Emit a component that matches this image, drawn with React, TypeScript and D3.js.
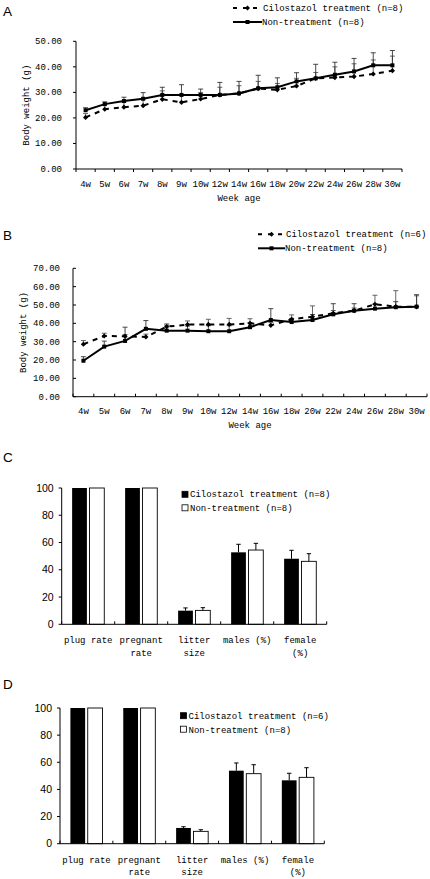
import React from "react";
import * as d3 from "d3";

const weeks = ["4w","5w","6w","7w","8w","9w","10w","12w","14w","16w","18w","20w","22w","24w","26w","28w","30w"];

const aCilo = [20.2, 23.4, 24.2, 24.8, 27.3, 26.1, 27.4, 29.0, 29.6, 31.5, 31.0, 32.5, 35.5, 35.8, 36.2, 37.2, 38.5];
const aCiloErr = [1.5, 2.0, 2.0, 2.5, 3.3, 3.0, 2.5, 3.0, 3.0, 2.8, 2.5, 3.0, 2.3, 4.2, 5.0, 5.5, 5.7];
const aNon = [23.0, 25.4, 26.6, 27.5, 29.0, 29.0, 29.0, 29.0, 29.6, 31.6, 32.0, 34.3, 35.5, 36.9, 38.2, 40.6, 40.6];
const aNonErr = [1.0, 0.9, 1.5, 2.4, 3.0, 4.0, 2.3, 4.9, 4.7, 5.1, 3.7, 3.4, 5.5, 4.9, 5.1, 4.9, 5.8];

const bCilo = [28.6, 33.1, 32.9, 32.6, 38.2, 39.3, 39.4, 39.4, 40.0, 38.9, 42.2, 43.6, 45.5, 46.9, 50.4, 49.1, 49.0];
const bCiloErr = [2.0, 1.5, 1.0, 1.5, 1.5, 2.0, 2.8, 3.3, 2.5, 1.5, 2.4, 5.9, 1.5, 1.5, 4.9, 8.7, 6.0];
const bNon = [19.6, 27.3, 30.4, 37.0, 36.0, 36.0, 35.7, 35.7, 37.9, 41.8, 40.7, 41.8, 44.9, 46.9, 48.0, 48.8, 49.1];
const bNonErr = [2.2, 3.0, 7.5, 4.5, 3.0, 2.5, 3.0, 3.0, 2.5, 6.2, 2.0, 3.0, 5.8, 3.8, 2.5, 3.0, 6.5];

const aTicks = [0, 10, 20, 30, 40, 50];
const bTicks = [0, 10, 20, 30, 40, 50, 60, 70];
const barTicks = [0, 20, 40, 60, 80, 100];

const barCats = ["plug rate", "pregnant rate", "litter size", "males (%)", "female (%)"];
const barCatLines = [["plug rate"], ["pregnant", "rate"], ["litter", "size"], ["males (%)"], ["female", "(%)"]];

const cCilo = [100, 100, 10.0, 52.8, 48.1];
const cCiloErr = [0, 0, 2.0, 5.9, 6.2];
const cNon = [100, 100, 10.2, 54.5, 46.2];
const cNonErr = [0, 0, 2.0, 4.9, 5.6];

const dCilo = [100, 100, 11.6, 53.8, 46.7];
const dCiloErr = [0, 0, 0.9, 5.7, 5.2];
const dNon = [100, 100, 9.1, 51.6, 48.9];
const dNonErr = [0, 0, 1.2, 6.6, 7.1];

const MONO = "'Liberation Mono', 'DejaVu Sans Mono', monospace";
const SANS = "'Liberation Sans', Arial, sans-serif";

type LineProps = {
  x0: number; x1: number; yTop: number; y0: number; maxV: number; ticks: number[];
  cilo: number[]; ciloErr: number[]; non: number[]; nonErr: number[];
  tickSide: number; xTickDir: number; labelRight: number; titleX: number;
  xLabelY: number; titleY: number; legX: number; legY: number; legN: string; legTextX: number;
};

function Diamond({ x, y, s }: { x: number; y: number; s: number }) {
  return <path d={`M${x},${y - s}L${x + s},${y}L${x},${y + s}L${x - s},${y}Z`} fill="#000" />;
}

function LinePanel(p: LineProps) {
  const x = d3.scaleBand<string>().domain(weeks).range([p.x0, p.x1]).padding(0);
  const y = d3.scaleLinear().domain([0, p.maxV]).range([p.y0, p.yTop]);
  const cx = (w: string) => (x(w) as number) + x.bandwidth() / 2;
  const line = d3.line<number>().x((_, i) => cx(weeks[i])).y((v) => y(v));
  const bounds = weeks.map((w) => x(w) as number).concat([p.x1]);
  const errs = (vals: number[], e: number[], col: string) =>
    vals.map((v, i) => {
      const xx = cx(weeks[i]);
      const yt = y(v + e[i]);
      return (
        <g key={i} stroke={col} strokeWidth={0.9}>
          <line x1={xx} x2={xx} y1={y(v)} y2={yt} />
          <line x1={xx - 2.5} x2={xx + 2.5} y1={yt} y2={yt} />
        </g>
      );
    });
  return (
    <g>
      {errs(p.cilo, p.ciloErr, "#555")}
      {errs(p.non, p.nonErr, "#333")}
      <path d={line(p.cilo) || ""} fill="none" stroke="#000" strokeWidth={2} strokeDasharray="5,5" />
      <path d={line(p.non) || ""} fill="none" stroke="#000" strokeWidth={2} />
      {p.cilo.map((v, i) => <Diamond key={"d" + i} x={cx(weeks[i])} y={y(v)} s={2.6} />)}
      {p.non.map((v, i) => (
        <rect key={"s" + i} x={cx(weeks[i]) - 2} y={y(v) - 2} width={4} height={4} fill="#000" />
      ))}
      {/* axes */}
      <line x1={p.x0} x2={p.x0} y1={p.y0} y2={p.yTop} stroke="#000" strokeWidth={1} />
      <line x1={p.x0} x2={p.x1} y1={p.y0} y2={p.y0} stroke="#000" strokeWidth={1} />
      {p.ticks.map((t) => (
        <g key={t}>
          <line x1={p.x0} x2={p.x0 + p.tickSide * 3} y1={y(t)} y2={y(t)} stroke="#000" />
          <text x={p.labelRight} y={y(t) + 3} textAnchor="end" fontFamily={MONO} fontSize={9} fill="#000">
            {t.toFixed(2)}
          </text>
        </g>
      ))}
      {bounds.map((b, i) => (
        <line key={i} x1={b} x2={b} y1={p.y0} y2={p.y0 + p.xTickDir * 3} stroke="#000" />
      ))}
      {weeks.map((w) => (
        <text key={w} x={cx(w)} y={p.xLabelY} textAnchor="middle" fontFamily={MONO} fontSize={9} fill="#000">
          {w}
        </text>
      ))}
      <text x={(p.x0 + p.x1) / 2} y={p.xLabelY + 14} textAnchor="middle" fontFamily={MONO} fontSize={9} fill="#000">
        Week age
      </text>
      <text
        transform={`translate(${p.titleX},${(p.y0 + p.yTop) / 2}) rotate(-90)`}
        textAnchor="middle" fontFamily={MONO} fontSize={9} fill="#000"
      >
        Body weight (g)
      </text>
      {/* legend */}
      <line x1={p.legX} x2={p.legTextX - 1} y1={p.legY} y2={p.legY} stroke="#000" strokeWidth={2} strokeDasharray="4,6" />
      <Diamond x={(p.legX + p.legTextX) / 2} y={p.legY} s={2.5} />
      <text x={p.legTextX + 1} y={p.legY + 3} fontFamily={MONO} fontSize={9} fill="#000">
        {`Cilostazol treatment (n=${p.legN})`}
      </text>
      <line x1={p.legX} x2={p.legTextX} y1={p.legY + 14} y2={p.legY + 14} stroke="#000" strokeWidth={2} />
      <rect x={(p.legX + p.legTextX) / 2 - 2} y={p.legY + 12} width={4} height={4} fill="#000" />
      <text x={p.legTextX} y={p.legY + 17} fontFamily={MONO} fontSize={9} fill="#000">
        Non-treatment (n=8)
      </text>
    </g>
  );
}

type BarProps = {
  x0: number; x1: number; yTop: number; y0: number;
  cilo: number[]; ciloErr: number[]; non: number[]; nonErr: number[];
  legX: number; legY: number; legN: string;
};

function BarPanel(p: BarProps) {
  const x = d3.scaleBand<string>().domain(barCats).range([p.x0, p.x1]).padding(0);
  const inner = d3.scaleBand<string>().domain(["c", "n"]).range([0, x.bandwidth()]).paddingInner(0.15).paddingOuter(0.6);
  const y = d3.scaleLinear().domain([0, 100]).range([p.y0, p.yTop]);
  const bounds = barCats.map((c) => x(c) as number).concat([p.x1]);
  const bars = (vals: number[], e: number[], key: string, fill: string) =>
    vals.map((v, i) => {
      const bx = (x(barCats[i]) as number) + (inner(key) as number);
      const bw = inner.bandwidth();
      const mid = bx + bw / 2;
      const yt = y(v + e[i]);
      return (
        <g key={key + i}>
          {e[i] > 0 && (
            <g stroke="#000" strokeWidth={1}>
              <line x1={mid} x2={mid} y1={y(v)} y2={yt} />
              <line x1={mid - 2.2} x2={mid + 2.2} y1={yt} y2={yt} />
            </g>
          )}
          <rect x={bx} y={y(v)} width={bw} height={p.y0 - y(v)} fill={fill} stroke="#000" strokeWidth={fill === "#fff" ? 0.9 : 0} />
        </g>
      );
    });
  return (
    <g>
      {bars(p.cilo, p.ciloErr, "c", "#000")}
      {bars(p.non, p.nonErr, "n", "#fff")}
      <line x1={p.x0} x2={p.x0} y1={p.y0} y2={p.yTop} stroke="#000" />
      <line x1={p.x0} x2={p.x1} y1={p.y0} y2={p.y0} stroke="#000" />
      {barTicks.map((t) => (
        <g key={t}>
          <line x1={p.x0 - 3} x2={p.x0} y1={y(t)} y2={y(t)} stroke="#000" />
          <text x={p.x0 - 8} y={y(t) + 3.5} textAnchor="end" fontFamily={SANS} fontSize={10.5} fill="#000">
            {t}
          </text>
        </g>
      ))}
      {bounds.map((b, i) => (
        <line key={i} x1={b} x2={b} y1={p.y0} y2={p.y0 - 3} stroke="#000" />
      ))}
      {barCats.map((c, i) => (
        <text key={c} textAnchor="middle" fontFamily={MONO} fontSize={9} fill="#000">
          {barCatLines[i].map((ln, j) => (
            <tspan key={j} x={(x(c) as number) + x.bandwidth() / 2} y={p.y0 + 19 + j * 12.7}>
              {ln}
            </tspan>
          ))}
        </text>
      ))}
      <rect x={p.legX} y={p.legY - 3} width={6} height={6} fill="#000" stroke="#000" strokeWidth={0.8} />
      <text x={p.legX + 8} y={p.legY + 3} fontFamily={MONO} fontSize={9} fill="#000">
        {`Cilostazol treatment (n=${p.legN})`}
      </text>
      <rect x={p.legX} y={p.legY + 10.5} width={6} height={6} fill="#fff" stroke="#000" strokeWidth={0.8} />
      <text x={p.legX + 8} y={p.legY + 17} fontFamily={MONO} fontSize={9} fill="#000">
        Non-treatment (n=8)
      </text>
    </g>
  );
}

export default function App() {
  return (
    <svg width={430} height={879} style={{ position: "absolute", left: 0, top: 0, display: "block", background: "#fff" }}>
      <rect width={430} height={879} fill="#fff" />
      <text x={3} y={15.5} fontFamily={SANS} fontSize={13.5} fill="#000">A</text>
      <text x={3} y={239.5} fontFamily={SANS} fontSize={13.5} fill="#000">B</text>
      <text x={3} y={462} fontFamily={SANS} fontSize={13.5} fill="#000">C</text>
      <text x={3} y={688.5} fontFamily={SANS} fontSize={13.5} fill="#000">D</text>
      <LinePanel
        x0={76} x1={402} yTop={41.3} y0={169} maxV={50} ticks={aTicks}
        cilo={aCilo} ciloErr={aCiloErr} non={aNon} nonErr={aNonErr}
        tickSide={-1} xTickDir={1} labelRight={62} titleX={29}
        xLabelY={187} titleY={105} legX={233} legY={8} legN="8" legTextX={262}
      />
      <LinePanel
        x0={73} x1={427} yTop={268.3} y0={396.7} maxV={70} ticks={bTicks}
        cilo={bCilo} ciloErr={bCiloErr} non={bNon} nonErr={bNonErr}
        tickSide={1} xTickDir={-1} labelRight={60} titleX={26}
        xLabelY={414} titleY={332} legX={258} legY={234.3} legN="6" legTextX={285}
      />
      <BarPanel
        x0={61.7} x1={326.7} yTop={488} y0={624.3}
        cilo={cCilo} ciloErr={cCiloErr} non={cNon} nonErr={cNonErr}
        legX={182} legY={494.3} legN="8"
      />
      <BarPanel
        x0={60} x1={324.3} yTop={708} y0={843.7}
        cilo={dCilo} ciloErr={dCiloErr} non={dNon} nonErr={dNonErr}
        legX={180.5} legY={715.7} legN="6"
      />
    </svg>
  );
}
